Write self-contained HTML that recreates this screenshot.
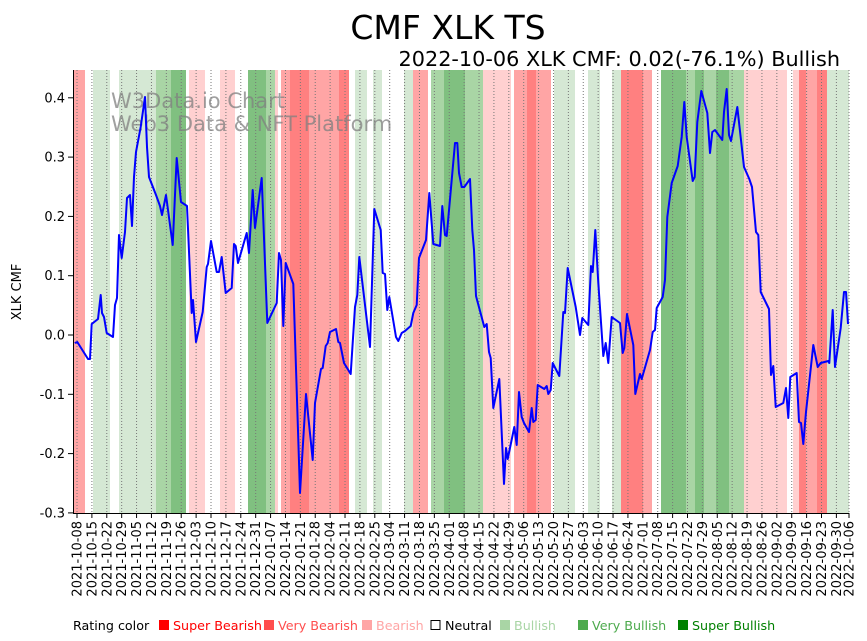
<!DOCTYPE html>
<html><head><meta charset="utf-8"><style>body{margin:0;background:#fff}svg{display:block}text{font-family:"DejaVu Sans","Liberation Sans",sans-serif}</style></head><body>
<svg width="867" height="641" viewBox="0 0 867 641" xmlns="http://www.w3.org/2000/svg">
<rect width="867" height="641" fill="#fff"/>
<g id="bands"></g>
<g id="grid"></g>
<text x="111" y="108" font-size="21" fill="#808080" fill-opacity="0.75">W3Data.io Chart</text>
<text x="111" y="131" font-size="21" fill="#808080" fill-opacity="0.75">Web3 Data &amp; NFT Platform</text>
<polyline fill="none" stroke="#0000ff" stroke-width="2" stroke-linejoin="round" points="74.7,343 77.3,342 88,359 90,359 91.7,324 98,319 100.7,295 102,313 104,317 106.7,333 113,337 115,305 117,298 119,235 121.7,258 125,232 127,198 130,195 132,226 134,177 136,152 140.7,127 145,97 147,147 149,177 156,195 160,206 162,215 166,195 172.7,245 176.7,158 181,202 187,206 191.7,313 193,300 196,342 202.7,312 206.7,267 208,264 211,241 216.7,272 219,272 221.7,257 225.7,293 231.7,288 234,244 235.7,246 238,263 246.7,233 249,253 252.7,190 255,228 261.7,178 267.3,323 276.7,303 279,253 281,260 283.3,326 285.7,263 293.3,284 300,493 306,394 312.7,460 315,403 321,369 322.7,368 325.7,346 327.7,343 330,332 336,329 338.3,342 340,343 344,363 350.7,374 355,307 357.3,295 359.3,257 370,347 374.3,209 380.7,230 382.7,273 385,274 387.3,310 389.3,297 396,337 398.3,341 401.7,333 405,331 410.7,326 413.3,313 416.7,305 419,258 426,240 429.3,193 433.3,244 440,246 442.3,206 445,235 446.7,236 455,143 457.3,143 459,173 461.7,187 464.3,187 470,179 472.3,230 474,250 476,296 484.3,327 486.7,324 489,352 490.7,358 493.3,408 499.3,379 504,484 506,448 507.7,459 514.3,427 516.7,445 519,392 521.7,417 524,423 529,432 531.7,408 533.3,422 535.7,420 537.7,385 544.3,389 546.7,386 548.3,394 550.7,390 552.7,363 559.3,376 563.3,312 565,313 567.7,268 575.7,307 580,335 582.3,318 588.3,325 591,266 592.7,272 595.3,230 598.3,283 603.3,356 605.7,343 608.3,363 611.7,317 620,323 622.7,353 624.3,348 627,314 633.3,345 635.3,394 640,374 641.7,379 650,350 652.7,332 655,330 656.7,308 662.7,297 665,280 667.3,217 671.7,183 677.7,166 681.7,137 684.3,102 686.7,137 692.7,181 694.7,177 697.3,122 701.3,91 707.3,113 710,153 712.3,132 715,130 722.3,140 724,112 726.7,89 729,135 731,141 737.3,107 744,167 749.3,179 752,187 756,232 758.3,235 760.7,292 769,309 771,375 773.3,366 775.7,407 783.3,403 786,388 788.3,418 790.3,377 796.7,373 799,422 801,423 803.3,444 806,412 813.3,345 817.7,367 820.7,363 828.3,361 829.3,363 832.7,310 835,367 840.7,328 844,292 846,292 848,324"/>
<g id="axes" stroke="#000" stroke-width="1" fill="none"><line x1="73.5" y1="70" x2="73.5" y2="514"/><line x1="73" y1="513.5" x2="849" y2="513.5"/></g>
<g id="yt" font-size="13" text-anchor="end"></g>
<g id="xt" font-size="13"></g>
<text x="21" y="292" font-size="13" text-anchor="middle" transform="rotate(-90 21 292)">XLK CMF</text>
<text x="448" y="39" font-size="33" text-anchor="middle">CMF XLK TS</text>
<text x="840" y="66" font-size="20.8" text-anchor="end">2022-10-06 XLK CMF: 0.02(-76.1%) Bullish</text>
<g font-size="12.7">
<text x="73" y="630">Rating color</text>
<rect x="159" y="620" width="10" height="10" fill="#ff0000"/><text x="173" y="630" fill="#ff0000">Super Bearish</text>
<rect x="264" y="620" width="10" height="10" fill="#ff4d4d"/><text x="278" y="630" fill="#ff4d4d">Very Bearish</text>
<rect x="362" y="620" width="10" height="10" fill="#ffa5a5"/><text x="376" y="630" fill="#ffa5a5">Bearish</text>
<rect x="431" y="620.5" width="9" height="9" fill="#fff" stroke="#000"/><text x="445" y="630">Neutral</text>
<rect x="500" y="620" width="10" height="10" fill="#a9d5a5"/><text x="514" y="630" fill="#a9d5a5">Bullish</text>
<rect x="578" y="620" width="10" height="10" fill="#4daa4d"/><text x="592" y="630" fill="#4daa4d">Very Bullish</text>
<rect x="678" y="620" width="10" height="10" fill="#008000"/><text x="692" y="630" fill="#008000">Super Bullish</text>
</g>
<script>
var NS="http://www.w3.org/2000/svg";
var C={SB:"#ff8080",VB:"#ffa5a5",B:"#ffd0d0",U:"#d5e8d4",VU:"#a9d5a5",SU:"#80c080"};
var bands=[[73,85,"VB"],[93,110,"U"],[119,156,"U"],[156,171,"VU"],[171,186,"SU"],[189,205,"B"],[220,235,"B"],[248,266,"SU"],[266,275,"VU"],[275,278,"B"],[281,290,"VB"],[290,309,"SB"],[309,339,"VB"],[339,349,"SB"],[355,367,"U"],[373,382,"U"],[404,413,"U"],[413,428,"VB"],[431,444,"VU"],[444,465,"SU"],[465,483,"VU"],[483,511,"B"],[514,527,"VB"],[527,536,"SB"],[536,551,"VB"],[554,575,"U"],[588,600,"U"],[612,621,"U"],[621,643,"SB"],[643,652,"VB"],[661,686,"SU"],[686,695,"VU"],[695,704,"SU"],[704,716,"VU"],[716,729,"SU"],[729,744,"VU"],[744,787,"B"],[793,799,"B"],[799,806,"SB"],[806,817,"VB"],[817,827,"SB"],[827,849,"U"]];
var g=document.getElementById("bands");
bands.forEach(function(b){var r=document.createElementNS(NS,"rect");r.setAttribute("x",b[0]);r.setAttribute("y",70);r.setAttribute("width",b[1]-b[0]);r.setAttribute("height",443);r.setAttribute("fill",C[b[2]]);g.appendChild(r);});
var d0=new Date(Date.UTC(2021,9,8));var gr=document.getElementById("grid"),xt=document.getElementById("xt");
for(var i=0;i<53;i++){var x=77+14.89*i;if(i==52)x=849;
var l=document.createElementNS(NS,"line");l.setAttribute("x1",x);l.setAttribute("x2",x);l.setAttribute("y1",70);l.setAttribute("y2",513);l.setAttribute("stroke","#777");l.setAttribute("stroke-width","1");l.setAttribute("stroke-dasharray","1,2");gr.appendChild(l);
var t=document.createElementNS(NS,"line");t.setAttribute("x1",x);t.setAttribute("x2",x);t.setAttribute("y1",513);t.setAttribute("y2",518);t.setAttribute("stroke","#000");gr.appendChild(t);
var dt=new Date(d0.getTime()+i*7*864e5);if(i==52)dt=new Date(Date.UTC(2022,9,6));var s=dt.toISOString().slice(0,10);
var tx=document.createElementNS(NS,"text");tx.setAttribute("transform","translate("+(x+4.5)+",521) rotate(-90)");tx.setAttribute("text-anchor","end");tx.textContent=s;xt.appendChild(tx);}
var yt=document.getElementById("yt");
for(var k=-3;k<=4;k++){var y=335-59.3*k;var t=document.createElementNS(NS,"line");t.setAttribute("x1",68);t.setAttribute("x2",73);t.setAttribute("y1",y);t.setAttribute("y2",y);t.setAttribute("stroke","#000");gr.appendChild(t);
var tx=document.createElementNS(NS,"text");tx.setAttribute("x",65);tx.setAttribute("y",y+4.5);tx.textContent=(k/10).toFixed(1);yt.appendChild(tx);}
</script>
</svg>
</body></html>
